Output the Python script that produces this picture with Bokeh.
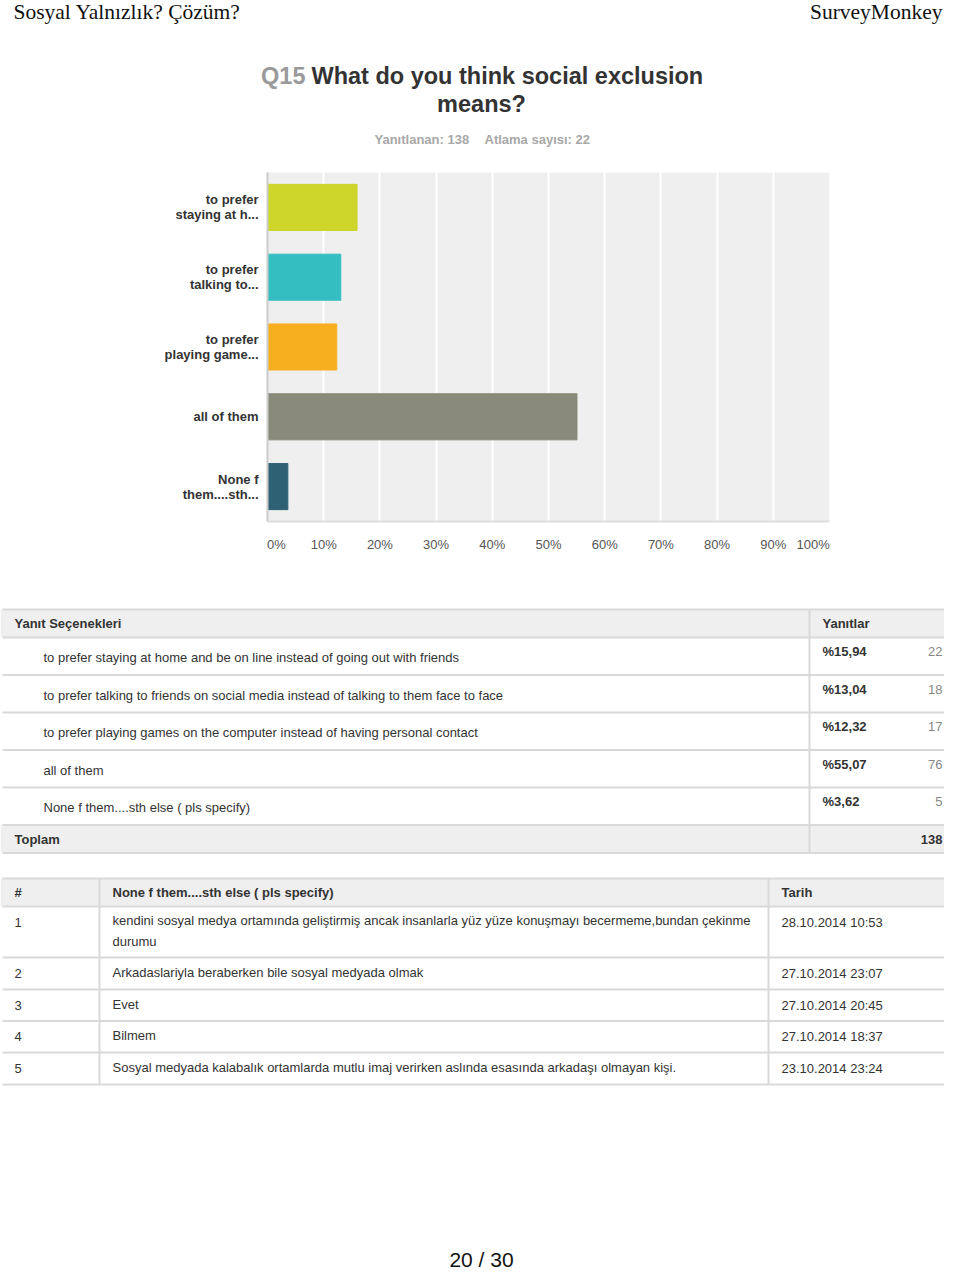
from bokeh.plotting import figure
from bokeh.layouts import column
from bokeh.models import Range1d, FactorRange, FixedTicker, ColumnDataSource
from bokeh.core.properties import value
from bokeh.embed import file_html
from bokeh.resources import INLINE

# ---------------- data ----------------
page_title = "Sosyal Yalnızlık? Çözüm?"
brand = "SurveyMonkey"
q_number = "Q15"
question_line1 = "What do you think social exclusion"
question_line2 = "means?"
answered_label = "Yanıtlanan: 138"
skipped_label = "Atlama sayısı: 22"

full_labels = [
    "to prefer staying at home and be on line instead of going out with friends",
    "to prefer talking to friends on social media instead of talking to them face to face",
    "to prefer playing games on the computer instead of having personal contact",
    "all of them",
    "None f them....sth else ( pls specify)",
]
short_labels = [
    "to prefer\nstaying at h...",
    "to prefer\ntalking to...",
    "to prefer\nplaying game...",
    "all of them",
    "None f\nthem....sth...",
]
percents = [15.94, 13.04, 12.32, 55.07, 3.62]
pct_labels = ["%15,94", "%13,04", "%12,32", "%55,07", "%3,62"]
counts = [22, 18, 17, 76, 5]
total = 138
bar_colors = ["#CED52B", "#35BEC1", "#F7AE1F", "#898A79", "#2E6173"]

tick_values = [0, 10, 20, 30, 40, 50, 60, 70, 80, 90, 100]
tick_labels = ["0%", "10%", "20%", "30%", "40%", "50%", "60%", "70%", "80%", "90%", "100%"]

t1_head_left = "Yanıt Seçenekleri"
t1_head_right = "Yanıtlar"
t1_total_label = "Toplam"

t2_head = ["#", "None f them....sth else ( pls specify)", "Tarih"]
resp_ids = ["1", "2", "3", "4", "5"]
responses = [
    "kendini sosyal medya ortamında geliştirmiş ancak insanlarla yüz yüze konuşmayı becermeme,bundan çekinme\ndurumu",
    "Arkadaslariyla beraberken bile sosyal medyada olmak",
    "Evet",
    "Bilmem",
    "Sosyal medyada kalabalık ortamlarda mutlu imaj verirken aslında esasında arkadaşı olmayan kişi.",
]
resp_dates = [
    "28.10.2014 10:53",
    "27.10.2014 23:07",
    "27.10.2014 20:45",
    "27.10.2014 18:37",
    "23.10.2014 23:24",
]
page_label = "20 / 30"

# ---------------- styling ----------------
SANS = "Liberation Sans"
SERIF = "Liberation Serif"
W = 944
H = 1272
LINE = "#d9d9d9"
BAND = "#efefef"
DARK = "#333333"
NB = "\u00a0"
HDR_H = 165
BAR_H = 410


def no_align(p):
    try:
        p.frame_align = False
    except Exception:
        pass
    return p


def blank(h, y0, y1):
    p = figure(width=W, height=h, x_range=Range1d(0, W), y_range=Range1d(y1, y0),
               output_backend="svg", toolbar_location=None, min_border=0,
               x_axis_location=None, y_axis_location=None)
    p.grid.visible = False
    p.outline_line_color = None
    p.background_fill_color = "white"
    p.border_fill_color = "white"
    return no_align(p)


# ---------------- header ----------------
hdr = blank(HDR_H, 0, HDR_H)
hdr.text(x=[13], y=[11], text=[page_title], text_font=value(SERIF), text_font_size="21.5px",
         text_color="#111111", text_align="left", text_baseline="middle")
hdr.text(x=[942], y=[11], text=[brand], text_font=value(SERIF), text_font_size="21.5px",
         text_color="#111111", text_align="right", text_baseline="middle")
hdr.text(x=[305], y=[75], text=[q_number], text_font=value(SANS), text_font_size="23.5px",
         text_font_style="bold", text_color="#9a9a9a", text_align="right", text_baseline="middle")
hdr.text(x=[311], y=[75], text=[question_line1], text_font=value(SANS), text_font_size="23.5px",
         text_font_style="bold", text_color=DARK, text_align="left", text_baseline="middle")
hdr.text(x=[481], y=[103], text=[question_line2], text_font=value(SANS), text_font_size="23.5px",
         text_font_style="bold", text_color=DARK, text_align="center", text_baseline="middle")
hdr.text(x=[374, 484], y=[139, 139], text=[answered_label, skipped_label], text_font=value(SANS),
         text_font_size="13px", text_font_style="bold", text_color="#a8a8a8",
         text_align="left", text_baseline="middle")

# ---------------- bar chart ----------------
bars = figure(width=W, height=BAR_H, x_range=Range1d(0, 100),
              y_range=FactorRange(factors=list(reversed(short_labels))),
              output_backend="svg", toolbar_location=None,
              min_border_left=267, min_border_right=115, min_border_top=7, min_border_bottom=54)
no_align(bars)
bars.outline_line_color = None
bars.background_fill_color = BAND
bars.border_fill_color = "white"
src = ColumnDataSource(dict(cat=short_labels, pct=percents, color=bar_colors))
bars.hbar(y="cat", right="pct", left=0, height=0.66, color="color", source=src)

bars.xaxis.ticker = FixedTicker(ticks=tick_values)
ov = {t: lab for t, lab in zip(tick_values, tick_labels)}
# first/last labels sit inside the plot edge, as in the original
ov[tick_values[0]] = NB * 5 + tick_labels[0]
ov[tick_values[-1]] = tick_labels[-1] + NB * 9
bars.xaxis.major_label_overrides = ov
bars.xaxis.major_tick_line_color = None
bars.xaxis.minor_tick_line_color = None
bars.xaxis.axis_line_color = "#dddddd"
bars.xaxis.axis_line_width = 2
bars.xaxis.major_label_standoff = 9
bars.xaxis.major_label_text_font = SANS
bars.xaxis.major_label_text_font_size = "13px"
bars.xaxis.major_label_text_color = "#555555"

bars.yaxis.major_tick_line_color = None
bars.yaxis.minor_tick_line_color = None
bars.yaxis.axis_line_color = "#cccccc"
bars.yaxis.axis_line_width = 2
bars.yaxis.major_label_standoff = 3
bars.yaxis.major_label_text_font = SANS
bars.yaxis.major_label_text_font_size = "13px"
bars.yaxis.major_label_text_font_style = "bold"
bars.yaxis.major_label_text_color = DARK
bars.yaxis.major_label_text_line_height = 1.0

bars.xgrid.ticker = FixedTicker(ticks=tick_values)
bars.xgrid.grid_line_color = "white"
bars.xgrid.grid_line_width = 2
bars.ygrid.grid_line_color = None

# ---------------- tables ----------------
T0 = HDR_H + BAR_H
tab = blank(H - T0, T0, H)

# table 1
t1_top = 609
t1_head_h = 28
t1_row_h = 37.5
n = len(full_labels)
rows_top = [t1_top + t1_head_h + i * t1_row_h for i in range(n)]
tot_top = t1_top + t1_head_h + n * t1_row_h
t1_bottom = tot_top + 28
tab.quad(left=0, right=W, top=t1_top, bottom=t1_top + t1_head_h, fill_color=BAND, line_color=None)
tab.quad(left=0, right=W, top=tot_top, bottom=t1_bottom, fill_color=BAND, line_color=None)
hlines = [t1_top, t1_top + t1_head_h] + [r + t1_row_h for r in rows_top] + [t1_bottom]
tab.segment(x0=[2] * len(hlines), x1=[W] * len(hlines), y0=hlines, y1=hlines, line_color=LINE, line_width=2)
tab.segment(x0=[809], x1=[809], y0=[t1_top], y1=[t1_bottom], line_color=LINE, line_width=2)

tab.text(x=[14, 822], y=[t1_top + 14] * 2, text=[t1_head_left, t1_head_right], text_font=value(SANS),
         text_font_size="13px", text_font_style="bold", text_color=DARK, text_baseline="middle")
tab.text(x=[43] * n, y=[r + 20 for r in rows_top], text=full_labels, text_font=value(SANS),
         text_font_size="13px", text_color=DARK, text_baseline="middle")
tab.text(x=[822] * n, y=[r + 14 for r in rows_top], text=pct_labels, text_font=value(SANS),
         text_font_size="13px", text_font_style="bold", text_color=DARK, text_baseline="middle")
tab.text(x=[942] * n, y=[r + 14 for r in rows_top], text=[str(c) for c in counts], text_font=value(SANS),
         text_font_size="13px", text_color="#888888", text_align="right", text_baseline="middle")
tab.text(x=[14], y=[tot_top + 14], text=[t1_total_label], text_font=value(SANS),
         text_font_size="13px", text_font_style="bold", text_color=DARK, text_baseline="middle")
tab.text(x=[942], y=[tot_top + 14], text=[str(total)], text_font=value(SANS),
         text_font_size="13px", text_font_style="bold", text_color=DARK, text_align="right",
         text_baseline="middle")

# table 2
t2_top = 878
t2_head_h = 28
t2_row_h = [51, 32, 31.5, 31.5, 32]
t2_rows = []
y = t2_top + t2_head_h
for h in t2_row_h:
    t2_rows.append(y)
    y += h
t2_bottom = y
tab.quad(left=0, right=W, top=t2_top, bottom=t2_top + t2_head_h, fill_color=BAND, line_color=None)
h2 = [t2_top, t2_top + t2_head_h] + [r + h for r, h in zip(t2_rows, t2_row_h)]
tab.segment(x0=[2] * len(h2), x1=[W] * len(h2), y0=h2, y1=h2, line_color=LINE, line_width=2)
tab.segment(x0=[99, 768], x1=[99, 768], y0=[t2_top] * 2, y1=[t2_bottom] * 2, line_color=LINE, line_width=2)

tab.text(x=[14, 112, 781], y=[t2_top + 14] * 3, text=t2_head, text_font=value(SANS),
         text_font_size="13px", text_font_style="bold", text_color=DARK, text_baseline="middle")
mids = [r + h / 2 - 1 for r, h in zip(t2_rows, t2_row_h)]
single = [r + 15.5 for r in t2_rows]
tab.text(x=[14] * 5, y=single, text=resp_ids, text_font=value(SANS), text_font_size="13px",
         text_color=DARK, text_baseline="middle")
tab.text(x=[112] * 5, y=mids, text=responses, text_font=value(SANS), text_font_size="13px",
         text_color=DARK, text_baseline="middle", text_line_height=1.4)
tab.text(x=[781] * 5, y=single, text=resp_dates, text_font=value(SANS), text_font_size="13px",
         text_color=DARK, text_baseline="middle")

tab.text(x=[481], y=[1259], text=[page_label], text_font=value(SANS), text_font_size="21px",
         text_color="#111111", text_align="center", text_baseline="middle")

layout = column(hdr, bars, tab, spacing=0)
open("out.html", "w").write(file_html(layout, INLINE))
